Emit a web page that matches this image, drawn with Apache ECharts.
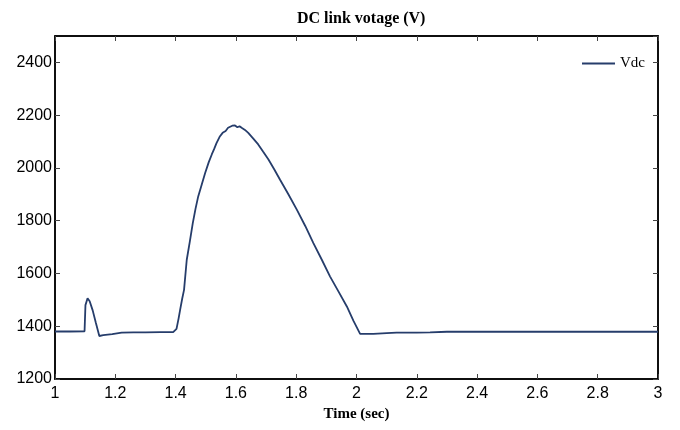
<!DOCTYPE html>
<html>
<head>
<meta charset="utf-8">
<script src="https://cdn.jsdelivr.net/npm/echarts@6/dist/echarts.min.js"></script>
<style>html,body{margin:0;padding:0;background:#fff}#c{width:680px;height:430px}</style>
</head>
<body>
<div id="c"></div>
<script>
var timeSec = [1.0, 1.05, 1.098, 1.101, 1.108, 1.115, 1.125, 1.135, 1.147, 1.16, 1.19, 1.221, 1.26, 1.3, 1.35, 1.392, 1.403, 1.41, 1.415, 1.422, 1.428, 1.437, 1.447, 1.457, 1.466, 1.475, 1.487, 1.498, 1.51, 1.52, 1.528, 1.536, 1.546, 1.556, 1.566, 1.574, 1.58, 1.588, 1.597, 1.605, 1.612, 1.619, 1.63, 1.641, 1.657, 1.674, 1.69, 1.708, 1.727, 1.746, 1.774, 1.802, 1.83, 1.857, 1.885, 1.912, 1.94, 1.968, 1.99, 2.012, 2.035, 2.056, 2.06, 2.1, 2.133, 2.2, 2.244, 2.3, 2.5, 2.8, 3.0];
var vdc = [1380, 1380, 1381, 1480, 1506, 1495, 1460, 1415, 1363, 1366, 1370, 1376, 1377, 1377, 1378, 1378, 1390, 1430, 1462, 1505, 1538, 1652, 1720, 1791, 1845, 1892, 1938, 1981, 2022, 2051, 2072, 2095, 2118, 2133, 2140, 2152, 2148, 2160, 2161, 2154, 2158, 2152, 2144, 2133, 2112, 2089, 2062, 2032, 1995, 1956, 1900, 1842, 1780, 1715, 1652, 1589, 1532, 1475, 1420, 1371, 1371, 1371, 1373, 1374, 1376, 1376, 1377, 1379, 1379, 1379, 1379];
var seriesName = 'Vdc';
var xTicks = {min: 1, max: 3, interval: 0.2};
var yTicks = {min: 1200, max: 2500, interval: 200};

var data = timeSec.map(function (t, i) { return [t, vdc[i]]; });
var chart = echarts.init(document.getElementById('c'));
var axisLine = {show: true, lineStyle: {color: '#000', width: 1.5}};
var tick = {show: true, inside: true, length: 5, lineStyle: {color: '#444'}};
chart.setOption({
  animation: false,
  title: {
    text: 'DC link votage (V)', left: 292, top: 6,
    textStyle: {fontFamily: 'Liberation Serif', fontWeight: 'bold', fontSize: 16, color: '#000'}
  },
  legend: {
    data: [seriesName], right: 30, top: 51, itemWidth: 33, itemHeight: 2, itemGap: 4,
    icon: 'rect',
    textStyle: {fontFamily: 'Liberation Serif', fontSize: 15, color: '#000'}
  },
  grid: {left: 55, right: 22, top: 36, bottom: 51, show: true, borderColor: '#000', borderWidth: 1.5},
  xAxis: [{
    type: 'value', min: xTicks.min, max: xTicks.max, interval: xTicks.interval,
    name: 'Time (sec)', nameLocation: 'middle', nameGap: 28,
    nameTextStyle: {fontFamily: 'Liberation Serif', fontWeight: 'bold', fontSize: 15, color: '#000'},
    axisLine: axisLine, axisTick: tick, splitLine: {show: false},
    axisLabel: {fontFamily: 'Liberation Sans', fontSize: 16, color: '#000', margin: 7,
      formatter: function (v) { return String(Math.round(v * 10) / 10); }}
  }, {
    type: 'value', position: 'top', min: xTicks.min, max: xTicks.max, interval: xTicks.interval,
    axisLine: axisLine, axisTick: tick, splitLine: {show: false}, axisLabel: {show: false}
  }],
  yAxis: [{
    type: 'value', min: yTicks.min, max: yTicks.max, interval: yTicks.interval,
    axisLine: axisLine, axisTick: tick, splitLine: {show: false},
    axisLabel: {fontFamily: 'Liberation Sans', fontSize: 16, color: '#000', margin: 3, showMaxLabel: false,
      formatter: function (v) { return String(v); }}
  }, {
    type: 'value', position: 'right', min: yTicks.min, max: yTicks.max, interval: yTicks.interval,
    axisLine: axisLine, axisTick: tick, splitLine: {show: false}, axisLabel: {show: false}
  }],
  series: [{
    name: seriesName, type: 'line', data: data, showSymbol: false, symbol: 'none',
    lineStyle: {color: '#263d6b', width: 1.8}, itemStyle: {color: '#263d6b'}
  }]
});
</script>
</body>
</html>
